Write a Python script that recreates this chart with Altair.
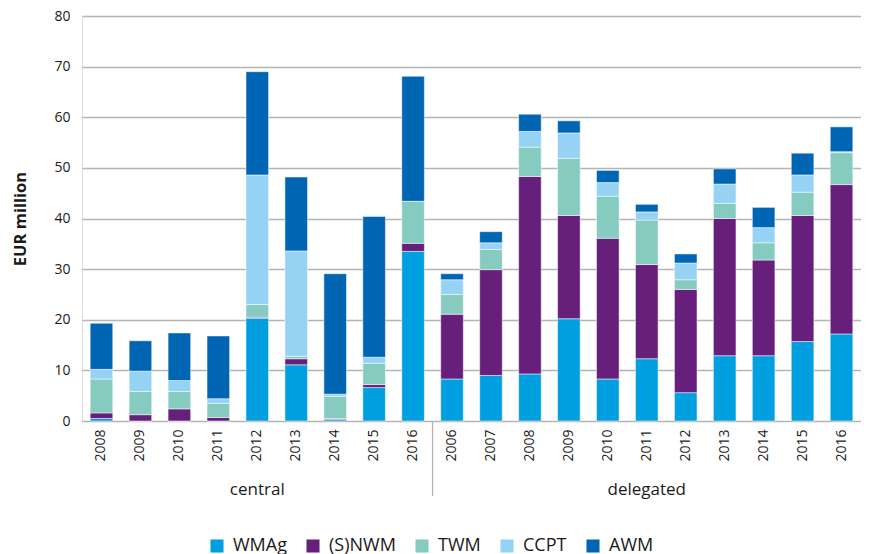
import altair as alt
import pandas as pd

series = ["WMAg", "(S)NWM", "TWM", "CCPT", "AWM"]
colors = ["#009FE0", "#66207C", "#85CBBF", "#95D2F3", "#0066B3"]

central_years = ["2008", "2009", "2010", "2011", "2012", "2013", "2014", "2015", "2016"]
delegated_years = ["2006", "2007", "2008", "2009", "2010", "2011", "2012", "2013", "2014", "2015", "2016"]

central_WMAg = [0.5, 0.0, 0.0, 0.0, 20.3, 11.1, 0.3, 6.6, 33.5]
central_SNWM = [1.1, 1.25, 2.4, 0.7, 0.2, 1.2, 0.2, 0.6, 1.6]
central_TWM = [6.7, 4.6, 3.45, 2.8, 2.5, 0.5, 4.4, 4.2, 8.3]
central_CCPT = [1.9, 4.0, 2.15, 0.9, 25.6, 20.8, 0.4, 1.2, 0.0]
central_AWM = [9.1, 6.0, 9.4, 12.4, 20.4, 14.6, 23.8, 27.8, 24.7]

delegated_WMAg = [8.3, 9.0, 9.3, 20.2, 8.3, 12.3, 5.6, 12.9, 12.9, 15.7, 17.2]
delegated_SNWM = [12.8, 20.9, 39.0, 20.4, 27.8, 18.6, 20.4, 27.1, 18.9, 24.9, 29.5]
delegated_TWM = [3.9, 4.0, 5.8, 11.3, 8.3, 8.8, 1.9, 3.0, 3.4, 4.6, 6.3]
delegated_CCPT = [2.9, 1.3, 3.1, 5.0, 2.7, 1.6, 3.3, 3.8, 3.0, 3.4, 0.2]
delegated_AWM = [1.2, 2.2, 3.4, 2.4, 2.4, 1.5, 1.8, 3.0, 4.0, 4.3, 4.9]

groups = ["central", "delegated"]

rows = []
cats = []
for grp, years, vals in [
    ("central", central_years, [central_WMAg, central_SNWM, central_TWM, central_CCPT, central_AWM]),
    ("delegated", delegated_years, [delegated_WMAg, delegated_SNWM, delegated_TWM, delegated_CCPT, delegated_AWM]),
]:
    for i, y in enumerate(years):
        key = f"{grp}|{y}"
        cats.append(key)
        for s_i, s in enumerate(series):
            rows.append({"cat": key, "series": s, "ord": s_i, "value": vals[s_i][i]})
df = pd.DataFrame(rows)

FONT = "Open Sans"
W, H = 779, 405

xscale = alt.Scale(domain=cats, paddingInner=0, paddingOuter=0)

bars = alt.Chart(df).mark_bar(width=alt.RelativeBandSize(0.58), stroke="white", strokeWidth=0.5).encode(
    x=alt.X("cat:N", scale=xscale, sort=cats,
            axis=alt.Axis(title=None, labelExpr="split(datum.value, '|')[1]", labelAngle=-90,
                          labelFont=FONT, labelFontSize=14, labelColor="#1a1a1a",
                          ticks=False, domain=False, labelPadding=8, labelBaseline="middle")),
    y=alt.Y("value:Q", stack="zero", scale=alt.Scale(domain=[0, 80], nice=False),
            axis=alt.Axis(title="EUR million", values=list(range(0, 81, 10)), ticks=False, domain=False,
                          labelFont=FONT, labelFontSize=14, labelColor="#1a1a1a", labelPadding=12,
                          titleFont=FONT, titleFontSize=16.5, titleFontWeight="bold", titleColor="#1a1a1a",
                          titlePadding=25, gridColor="#b4b4b4", gridWidth=1.3)),
    color=alt.Color("series:N", scale=alt.Scale(domain=series, range=colors), sort=series,
                    legend=alt.Legend(title=None, orient="none", legendX=126, legendY=521,
                                      direction="horizontal", symbolType="square", symbolSize=170,
                                      symbolStrokeWidth=0, labelFont=FONT, labelFontSize=18,
                                      labelColor="#1a1a1a", columnPadding=17, labelOffset=7)),
    order=alt.Order("ord:Q", sort="ascending"),
)

grp_df = pd.DataFrame({"cat": ["central|2012", "delegated|2011"], "label": groups})
grp_text = alt.Chart(grp_df).mark_text(font=FONT, fontSize=17, color="#1a1a1a", baseline="middle").encode(
    x=alt.X("cat:N", scale=xscale, sort=cats),
    y=alt.value(H + 69),
    text="label:N",
)

sep_df = pd.DataFrame({"cat": ["delegated|2006"]})
sep = alt.Chart(sep_df).mark_rule(color="#b4b4b4", strokeWidth=1.3).encode(
    x=alt.X("cat:N", scale=xscale, sort=cats, bandPosition=0),
    y=alt.value(H),
    y2=alt.value(H + 75),
)

chart = alt.layer(bars, sep, grp_text).properties(width=W, height=H).configure_view(stroke=None).configure(
    font=FONT, padding={"left": 4, "top": 1, "right": 0, "bottom": 0}
)

chart.save("out.html", embed_options={"renderer": "svg", "actions": False})
